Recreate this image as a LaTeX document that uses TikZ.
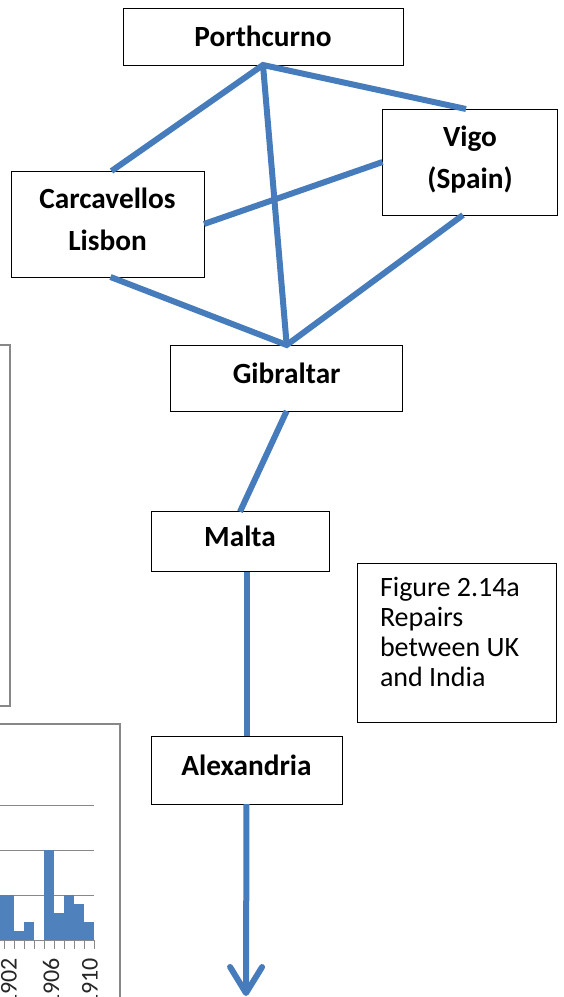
\documentclass[tikz,border=0pt]{standalone}
\usepackage{fontspec}
\setmainfont{Carlito}
\usetikzlibrary{arrows.meta,positioning}
\definecolor{cablecol}{RGB}{70,124,188}
\definecolor{barcol}{RGB}{79,129,189}
\definecolor{framecol}{RGB}{136,136,136}

\tikzset{
  station/.style={draw, line width=1pt, outer sep=0pt, inner sep=0pt, align=center,
    text height=20.5pt, text depth=10.5pt,
    font=\fontsize{29.3}{42}\selectfont\bfseries},
  twoline/.style={text height=62.5pt, text depth=10.5pt},
  cable/.style={draw=cablecol, line width=6pt},
  caption/.style={draw, line width=1pt, outer sep=0pt, inner xsep=23pt, inner ysep=0pt,
    align=flush left, text width=153pt, text height=33pt, text depth=126pt,
    font=\fontsize{28}{30}\selectfont}
}

\begin{document}
\begin{tikzpicture}[x=1pt,y=-1pt]
\useasboundingbox (0,0) rectangle (563,997);
\clip (0,0) rectangle (563,997);

% bits of the neighbouring chart
\draw [framecol, line width=2pt] (0,345) -- (10,345) -- (10,706) -- (0,706);
\draw [framecol, line width=1.5pt] (0,724) -- (120,724) -- (120,1000);
\foreach \y in {805,850,895}
  \draw [framecol, line width=1pt] (0,\y) -- (94,\y);
\foreach \x/\h in {-6/5, 4/5, 14/1, 24/2, 44/10, 54/3, 64/5, 74/4, 84/2}
  \fill [barcol] (\x,940) rectangle ++(10,-9*\h);
\draw [framecol, line width=1pt] (0,940) -- (94,940);
\foreach \x in {4,14,...,94}
  \draw [framecol, line width=1pt] (\x,940) -- (\x,949);
\foreach \x/\yr in {9/1902, 51/1906, 90/1910}
  \node (yr\yr) [rotate=90, anchor=east, inner sep=0pt, text=black!85,
    font=\fontsize{24}{24}\selectfont] at (\x,958) {\yr};

% stations
\node (por) [station, text depth=0pt, minimum width=280pt, minimum height=57pt] at (263,36.5) {Porthcurno};
\node (vigo) [station, twoline, minimum width=175pt, minimum height=106pt] at (470,162) {Vigo\\(Spain)};
\node (carc) [station, twoline, minimum width=193pt, minimum height=106pt] at (107.5,224) {Carcavellos\\Lisbon};
\node (gib) [station, minimum width=232pt, minimum height=66pt] at (286.7,378) {Gibraltar};
\node (malta) [station, minimum width=178pt, minimum height=60pt] at (240,541.7) {Malta};
\node (alex) [station, minimum width=191pt, minimum height=68pt] at (246.5,770) {Alexandria};
\node (fig) [caption, anchor=north west] at (357,563) {Figure 2.14a\\Repairs\\between UK\\and India};
\coordinate (east) at (246,996);

% cables
\draw [cable] ([xshift=4pt]carc.north) -- (por.south) -- ([xshift=-4pt]vigo.north);
\draw [cable] (por.south) -- (gib.north);
\draw [cable] (carc.east) -- (vigo.west);
\draw [cable] ([xshift=3pt]carc.south) -- (gib.north) -- ([xshift=-7pt]vigo.south);
\draw [cable] (gib.south) -- (malta.north);
\draw [cable] (alex.north |- malta.south) -- (alex.north);
\draw [cable, -{Straight Barb[length=26pt,width=32pt,round]}] (alex.south) -- (east);
\end{tikzpicture}
\end{document}
